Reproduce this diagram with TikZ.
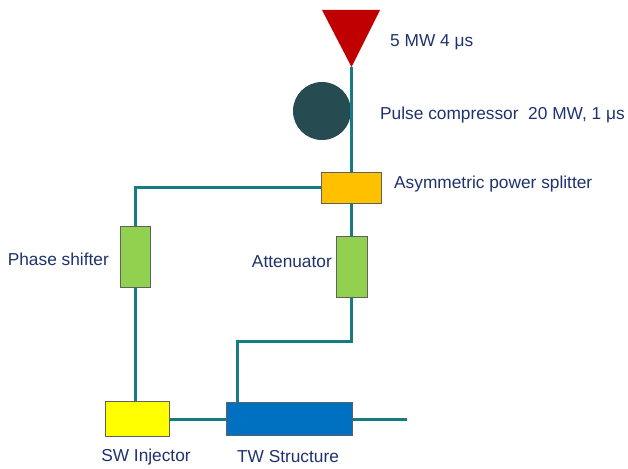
\documentclass[tikz,border=0pt]{standalone}
\usepackage{fontspec}
\setmainfont{Liberation Sans}
\definecolor{wguide}{RGB}{22,124,130}
\definecolor{labelblue}{RGB}{30,50,110}
\definecolor{klyred}{RGB}{192,0,0}
\definecolor{compgray}{RGB}{38,76,82}
\definecolor{splitgold}{RGB}{255,192,0}
\definecolor{partgreen}{RGB}{146,208,80}
\definecolor{swyellow}{RGB}{255,255,0}
\definecolor{twblue}{RGB}{0,112,192}
\tikzset{
  guide/.style={wguide,line width=3pt},
  part/.style={draw=gray!75!black,line width=1pt,inner sep=0pt},
  lbl/.style={text=labelblue,font=\fontsize{17.3}{19}\selectfont,inner sep=0pt}
}
\begin{document}
\begin{tikzpicture}[x=1pt,y=-1pt]
\useasboundingbox (0,0) rectangle (628,468);
% source and compressor
\fill[klyred] (322,10) -- (380,10) -- (351.5,67) -- cycle;
\coordinate (src) at (351.5,67);
\node[circle,fill=compgray,minimum size=58pt,inner sep=0pt] (comp) at (322,111) {};
% components
\node[part,fill=splitgold,minimum width=60pt,minimum height=31pt] (split) at (351.5,187.5) {};
\node[part,fill=partgreen,minimum width=30pt,minimum height=61pt] (phase) at (135,256.5) {};
\node[part,fill=partgreen,minimum width=31pt,minimum height=61pt] (atten) at (351.5,266.5) {};
\node[part,fill=swyellow,minimum width=64pt,minimum height=35pt] (swi) at (137,419) {};
\node[part,fill=twblue,minimum width=126pt,minimum height=33pt] (tws) at (289,419) {};
\coordinate (bend) at (237,341);
\coordinate (out) at (407,419);
% waveguides
\draw[guide] (src) -- (split.north);
\draw[guide] (split.west) -| (phase.north);
\draw[guide] (phase.south) -- (phase.south |- swi.north);
\draw[guide] (split.south) -- (atten.north);
\draw[guide] (atten.south) |- (bend) -- (bend |- tws.north);
\draw[guide] (swi.east) -- (tws.west);
\draw[guide] (tws.east) -- (out);
% labels
\node[lbl,anchor=west] (srclbl) at (390,42) {5 MW 4 μs};
\node[lbl,anchor=west] (complbl) at (380,115) {Pulse compressor\ \ 20 MW, 1 μs};
\node[lbl,anchor=west] (splitlbl) at (394,184) {Asymmetric power splitter};
\node[lbl,anchor=east] (phaselbl) at (109,259) {Phase shifter};
\node[lbl,anchor=east] (attenlbl) at (332,262) {Attenuator};
\node[lbl] (swilbl) at (146,457) {SW Injector};
\node[lbl] (twslbl) at (288,457) {TW Structure};
\end{tikzpicture}
\end{document}
